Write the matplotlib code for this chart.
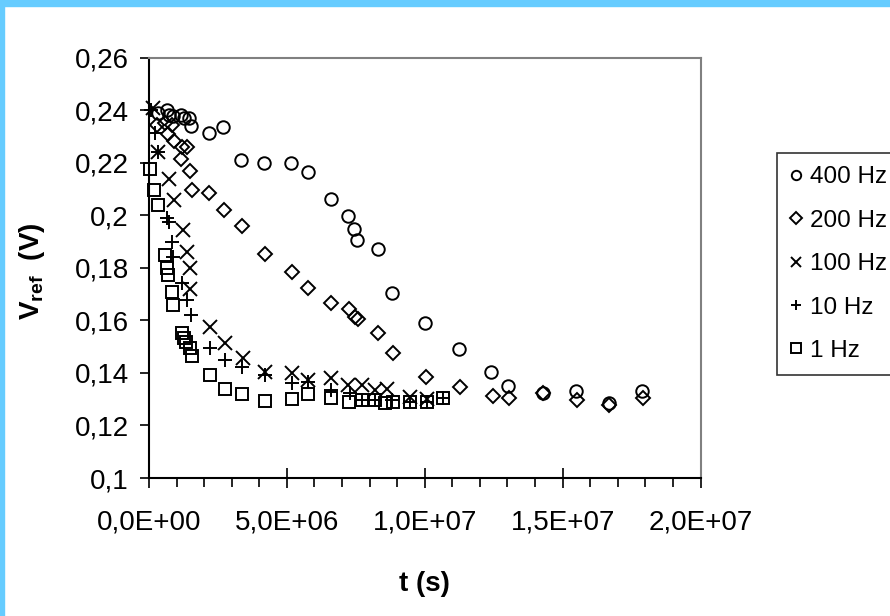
import numpy as np
import matplotlib
matplotlib.use("Agg")
import matplotlib.pyplot as plt
from matplotlib.ticker import MultipleLocator, FuncFormatter
from matplotlib.patches import Rectangle

plt.rcParams['font.family'] = ['Liberation Sans', 'DejaVu Sans']
plt.rcParams['mathtext.fontset'] = 'custom'
plt.rcParams['mathtext.rm'] = 'Liberation Sans'
plt.rcParams['mathtext.bf'] = 'Liberation Sans:bold'

# time in units of 1e6 s, voltage in V
t_400 = [0.33, 0.64, 0.74, 0.88, 1.15, 1.27, 1.46, 1.51, 2.18, 2.70, 3.35, 4.18, 5.15, 5.76,
         6.59, 7.23, 7.45, 7.53, 8.31, 8.80, 10.01, 11.25, 12.40, 13.03, 14.28, 15.49, 16.67, 17.87]
v_400 = [0.2389, 0.2400, 0.2381, 0.2377, 0.2381, 0.2369, 0.2369, 0.2339, 0.2312, 0.2337, 0.2209,
         0.2197, 0.2197, 0.2165, 0.2060, 0.1998, 0.1947, 0.1906, 0.1870, 0.1705, 0.1591, 0.1492,
         0.1404, 0.1351, 0.1325, 0.1332, 0.1286, 0.1330]

t_200 = [0.28, 0.58, 0.82, 0.70, 0.91, 1.19, 1.37, 1.15, 1.49, 1.55, 2.19, 2.73, 3.36, 4.21, 5.18,
         5.78, 6.60, 7.26, 7.47, 7.59, 8.29, 8.84, 10.05, 11.28, 12.49, 13.07, 14.28, 15.51, 16.67, 17.93]
v_200 = [0.2343, 0.2350, 0.2343, 0.2308, 0.2282, 0.2261, 0.2261, 0.2214, 0.2169, 0.2096, 0.2086,
         0.2020, 0.1959, 0.1851, 0.1785, 0.1724, 0.1665, 0.1642, 0.1614, 0.1605, 0.1553, 0.1474,
         0.1385, 0.1347, 0.1312, 0.1303, 0.1322, 0.1297, 0.1277, 0.1303]

t_100 = [0.15, 0.34, 0.74, 0.91, 1.22, 1.37, 1.49, 1.49, 2.21, 2.76, 3.40, 4.21, 5.18, 5.78, 6.60,
         7.23, 7.71, 8.20, 8.62, 9.47, 10.07]
v_100 = [0.2408, 0.2242, 0.2137, 0.2058, 0.1944, 0.1860, 0.1798, 0.1718, 0.1573, 0.1513, 0.1455,
         0.1403, 0.1398, 0.1373, 0.1379, 0.1354, 0.1354, 0.1335, 0.1337, 0.1309, 0.1299]

t_10 = [0.06, 0.22, 0.34, 0.64, 0.74, 0.82, 0.88, 1.19, 1.37, 1.52, 2.21, 2.76, 3.36, 4.21, 5.18,
        5.78, 6.60, 7.29, 7.71, 8.20, 8.80, 9.47, 10.07, 10.67]
v_10 = [0.2400, 0.2312, 0.2242, 0.1988, 0.1975, 0.1899, 0.1842, 0.1741, 0.1677, 0.1620, 0.1493,
        0.1449, 0.1423, 0.1392, 0.1360, 0.1366, 0.1335, 0.1322, 0.1298, 0.1298, 0.1298, 0.1291,
        0.1291, 0.1303]

t_1 = [0.04, 0.18, 0.34, 0.58, 0.64, 0.70, 0.82, 0.88, 1.19, 1.27, 1.34, 1.49, 1.55, 2.21, 2.76,
       3.36, 4.21, 5.18, 5.78, 6.60, 7.27, 7.71, 8.20, 8.56, 8.86, 9.47, 10.07, 10.67]
v_1 = [0.2175, 0.2096, 0.2039, 0.1848, 0.1798, 0.1772, 0.1709, 0.1658, 0.1551, 0.1532, 0.1519,
       0.1493, 0.1464, 0.1392, 0.1337, 0.1320, 0.1294, 0.1301, 0.1320, 0.1303, 0.1290, 0.1297,
       0.1297, 0.1284, 0.1290, 0.1290, 0.1290, 0.1303]

series = [
    ("400 Hz", t_400, v_400, "o", 9),
    ("200 Hz", t_200, v_200, "D", 7.5),
    ("100 Hz", t_100, v_100, "x", 9.5),
    ("10 Hz", t_10, v_10, "+", 9.5),
    ("1 Hz", t_1, v_1, "s", 9),
]


def main():
    fig = plt.figure(figsize=(8.9, 6.16), dpi=100)
    ax = fig.add_axes([149 / 890, 1 - 478 / 616, 551.5 / 890, 420.5 / 616])

    # light blue frame strips (top and left)
    fig.patches.append(Rectangle((0, 1 - 6 / 616), 1, 6 / 616, transform=fig.transFigure,
                                 color="#66CCFF", zorder=0))
    fig.patches.append(Rectangle((0, 0), 4 / 890, 1, transform=fig.transFigure,
                                 color="#66CCFF", zorder=0))

    for label, t, v, m, ms in series:
        ax.plot(np.array(t) * 1e6, v, linestyle="none", marker=m, markersize=ms,
                markerfacecolor="none", markeredgecolor="black", markeredgewidth=1.4,
                label=label, clip_on=False)

    ax.set_xlim(0, 2e7)
    ax.set_ylim(0.1, 0.26)
    ax.xaxis.set_major_locator(MultipleLocator(5e6))
    ax.xaxis.set_minor_locator(MultipleLocator(1e6))
    ax.yaxis.set_major_locator(MultipleLocator(0.02))

    ax.xaxis.set_major_formatter(FuncFormatter(lambda x, p: ("%.1E" % x).replace(".", ",")))
    ax.yaxis.set_major_formatter(FuncFormatter(lambda y, p: ("%g" % round(y, 2)).replace(".", ",")))

    ax.tick_params(axis="x", which="major", direction="inout", length=14, width=1.2,
                   labelsize=20, pad=16)
    ax.tick_params(axis="x", which="minor", direction="out", length=6.5, width=1.2)
    ax.tick_params(axis="y", which="major", direction="out", length=6.5, width=1.2,
                   labelsize=20, pad=8)

    for s in ["left", "bottom"]:
        ax.spines[s].set_color("black")
        ax.spines[s].set_linewidth(1.5)
    for s in ["top", "right"]:
        ax.spines[s].set_color("#808080")
        ax.spines[s].set_linewidth(1.5)

    fig.text(424.5 / 890, 1 - 584 / 616, "t (s)", ha="center", va="center",
             fontsize=20, fontweight="bold")
    fig.text(32 / 890, 1 - 271 / 616, r"$\mathbf{V_{ref}}$  (V)", ha="center", va="center",
             rotation=90, fontsize=20, fontweight="bold")

    leg = fig.legend(loc="upper left", bbox_to_anchor=(777 / 890, 1 - 153 / 616),
                     bbox_transform=fig.transFigure, fontsize=17.5, markerscale=0.75,
                     fancybox=False, borderpad=0.55, handlelength=0.5, handletextpad=0.3,
                     labelspacing=0.88, borderaxespad=0)
    leg.get_frame().set_edgecolor("black")
    leg.get_frame().set_linewidth(1.2)

    fig.savefig("out.png", dpi=100)


if __name__ == "__main__":
    main()
